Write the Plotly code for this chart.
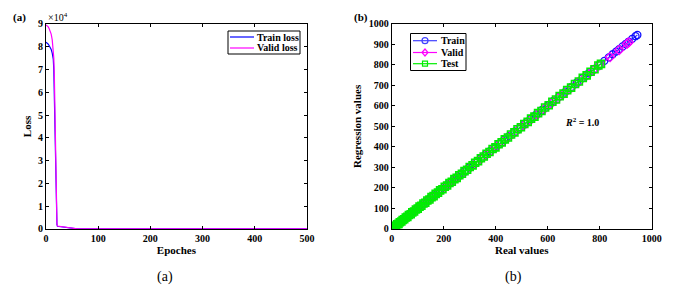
import plotly.graph_objects as go

# ---- Data: panel (a) loss curves (values in units of 1e4) ----
epochs = [0, 2, 4, 6, 8, 10, 12, 14, 15, 16, 17, 18, 19, 20, 21, 22, 25, 30, 35, 40, 45, 50, 55, 60, 80, 100, 200, 300, 400, 500]
train_loss = [8.20, 8.17, 8.12, 8.05, 7.98, 7.88, 7.72, 7.45, 7.00, 6.00, 4.60, 3.00, 1.60, 0.60, 0.20, 0.12, 0.11, 0.09, 0.07, 0.05, 0.03, 0.02, 0.01, 0.003, 0.001, 0, 0, 0, 0, 0]
valid_loss = [8.95, 8.93, 8.88, 8.80, 8.70, 8.55, 8.30, 7.90, 7.50, 6.80, 5.20, 3.40, 1.80, 0.70, 0.25, 0.13, 0.12, 0.10, 0.08, 0.06, 0.04, 0.02, 0.01, 0.003, 0.001, 0, 0, 0, 0, 0]

# ---- Data: panel (b) regression ----
train_real = [5, 10, 14, 18, 23, 28, 33, 38, 44, 50, 56, 62, 69, 76, 83, 90, 98, 106, 114, 122, 131, 140, 150, 160, 170, 181, 192, 204, 216, 228, 241, 254, 268, 282, 297, 312, 328, 344, 361, 378, 396, 414, 433, 452, 472, 492, 513, 534, 556, 578, 600, 622, 645, 668, 690, 712, 735, 757, 778, 800, 818, 835, 850, 863, 875, 888, 900, 912, 925, 938, 945]
train_pred = [7, 12, 16, 20, 25, 30, 35, 40, 46, 52, 58, 64, 71, 78, 85, 92, 100, 108, 116, 124, 133, 142, 152, 162, 172, 183, 194, 206, 218, 230, 243, 256, 270, 284, 299, 314, 330, 346, 363, 380, 398, 416, 435, 454, 474, 494, 515, 536, 558, 580, 602, 624, 647, 670, 692, 714, 737, 759, 780, 802, 820, 837, 852, 865, 877, 890, 902, 914, 927, 940, 946]
valid_real = [6, 12, 19, 27, 35, 44, 53, 63, 73, 84, 95, 107, 119, 132, 145, 159, 173, 188, 203, 219, 235, 252, 269, 287, 305, 324, 343, 363, 383, 404, 425, 447, 469, 492, 515, 539, 563, 588, 613, 639, 665, 692, 719, 747, 775, 800, 840, 875, 905, 912]
valid_pred = [4, 10, 17, 25, 33, 42, 51, 61, 71, 82, 93, 105, 117, 130, 143, 157, 171, 186, 201, 217, 233, 250, 267, 285, 303, 322, 341, 361, 381, 402, 423, 445, 467, 490, 513, 537, 561, 586, 611, 637, 663, 690, 717, 745, 773, 798, 838, 873, 903, 910]
test_real = [3, 8, 12, 16, 21, 26, 31, 37, 42, 48, 54, 60, 66, 73, 79, 86, 93, 100, 107, 114, 122, 129, 137, 145, 153, 161, 169, 178, 186, 195, 204, 213, 222, 231, 241, 250, 260, 270, 280, 290, 300, 311, 321, 332, 343, 354, 365, 376, 388, 399, 411, 423, 435, 447, 459, 472, 484, 497, 510, 523, 536, 549, 563, 576, 590, 604, 618, 632, 646, 661, 675, 690, 705, 720, 735, 750, 765, 780, 795, 805]
test_pred = [5, 7, 14, 15, 23, 25, 33, 36, 44, 47, 56, 59, 68, 72, 81, 85, 95, 99, 109, 113, 124, 128, 139, 144, 155, 160, 171, 177, 188, 194, 206, 212, 224, 230, 243, 249, 262, 269, 282, 289, 302, 310, 323, 331, 345, 353, 367, 375, 390, 398, 413, 422, 437, 446, 461, 471, 486, 496, 512, 522, 538, 548, 565, 575, 592, 603, 620, 631, 648, 660, 677, 689, 707, 719, 737, 749, 767, 779, 797, 805]

loss_xticks = [0, 100, 200, 300, 400, 500]
loss_yticks = [0, 1, 2, 3, 4, 5, 6, 7, 8, 9]
reg_xticks = [0, 200, 400, 600, 800, 1000]
reg_yticks = [0, 100, 200, 300, 400, 500, 600, 700, 800, 900, 1000]

FONT = "Liberation Serif"
W, H = 676, 288
def px(x):
    return x / W
def py(y):
    return 1 - y / H

fig = go.Figure()

fig.add_trace(go.Scatter(x=epochs, y=train_loss, mode="lines", name="Train loss",
                         line=dict(color="#0000ff", width=1.2), xaxis="x", yaxis="y"))
fig.add_trace(go.Scatter(x=epochs, y=valid_loss, mode="lines", name="Valid loss",
                         line=dict(color="#ff00ff", width=1.2), xaxis="x", yaxis="y"))

fig.add_trace(go.Scatter(x=train_real, y=train_pred, mode="lines+markers", name="Train",
                         line=dict(color="#3030ff", width=1.2),
                         marker=dict(symbol="circle-open", size=7, color="#1010ff", line=dict(width=1.3)),
                         xaxis="x2", yaxis="y2"))
fig.add_trace(go.Scatter(x=valid_real, y=valid_pred, mode="lines+markers", name="Valid",
                         line=dict(color="#ff00ff", width=1.2),
                         marker=dict(symbol="diamond-open", size=7, color="#ff00ff", line=dict(width=1.3)),
                         xaxis="x2", yaxis="y2"))
fig.add_trace(go.Scatter(x=test_real, y=test_pred, mode="lines+markers", name="Test",
                         line=dict(color="#00ff00", width=1.2),
                         marker=dict(symbol="square-open", size=7, color="#00ee00", line=dict(width=1.6)),
                         xaxis="x2", yaxis="y2"))

axcommon = dict(showline=True, linecolor="black", linewidth=1, mirror="allticks",
                ticks="inside", ticklen=3, tickcolor="black", showgrid=False, zeroline=False,
                automargin=False, tickfont=dict(family=FONT, size=10, color="black"))
tfont = dict(family=FONT, size=11, color="black")

ydom = [0.205, 0.917]
fig.update_layout(
    width=W, height=H, margin=dict(l=0, r=0, t=0, b=0, autoexpand=False),
    paper_bgcolor="white", plot_bgcolor="white", showlegend=False,
    xaxis=dict(domain=[0.068, 0.454], range=[0, 500], tickvals=loss_xticks,
               ticktext=[f"<b>{v}</b>" for v in loss_xticks],
               title=dict(text="<b>Epoches</b>", font=tfont, standoff=2),
               anchor="y", **axcommon),
    yaxis=dict(domain=ydom, range=[0, 9], tickvals=loss_yticks,
               ticktext=[f"<b>{v}</b>" for v in loss_yticks],
               title=dict(text="<b>Loss</b>", font=tfont, standoff=4),
               anchor="x", **axcommon),
    xaxis2=dict(domain=[0.5795, 0.964], range=[0, 1000], tickvals=reg_xticks,
                ticktext=[f"<b>{v}</b>" for v in reg_xticks],
                title=dict(text="<b>Real values</b>", font=tfont, standoff=2),
                anchor="y2", **axcommon),
    yaxis2=dict(domain=ydom, range=[0, 1000], tickvals=reg_yticks,
                ticktext=[f"<b>{v}</b>" for v in reg_yticks],
                title=dict(text="<b>Regression values</b>", font=tfont, standoff=4),
                anchor="x2", **axcommon),
)

shapes = []
ann = []
lfont = dict(family=FONT, size=10, color="black")

# legend (a)
shapes.append(dict(type="rect", xref="paper", yref="paper", x0=px(228), x1=px(300), y0=py(54), y1=py(31),
                   line=dict(color="black", width=1), fillcolor="white", layer="above"))
for yy, col, lab in [(37, "#0000ff", "Train loss"), (48, "#ff00ff", "Valid loss")]:
    shapes.append(dict(type="line", xref="paper", yref="paper", x0=px(230), x1=px(254), y0=py(yy), y1=py(yy),
                       line=dict(color=col, width=1.2), layer="above"))
    ann.append(dict(text=f"<b>{lab}</b>", x=px(255), y=py(yy), xref="paper", yref="paper",
                    xanchor="left", yanchor="middle", showarrow=False, font=lfont))

# legend (b)
shapes.append(dict(type="rect", xref="paper", yref="paper", x0=px(410.5), x1=px(466), y0=py(70.5), y1=py(33.5),
                   line=dict(color="black", width=1), fillcolor="white", layer="above"))
leg_b = [(40.7, "#4040ff", "Train", "circle"), (52.5, "#ff00ff", "Valid", "diamond"), (63.7, "#00ee00", "Test", "square")]
cx = 425
r = 3
for yy, col, lab, sym in leg_b:
    shapes.append(dict(type="line", xref="paper", yref="paper", x0=px(413), x1=px(437), y0=py(yy), y1=py(yy),
                       line=dict(color=col, width=1.2), layer="above"))
    if sym == "circle":
        shapes.append(dict(type="circle", xref="paper", yref="paper", x0=px(cx - r), x1=px(cx + r),
                           y0=py(yy + r), y1=py(yy - r), line=dict(color=col, width=1.2), layer="above"))
    elif sym == "square":
        shapes.append(dict(type="rect", xref="paper", yref="paper", x0=px(cx - r + 0.5), x1=px(cx + r - 0.5),
                           y0=py(yy + r - 0.5), y1=py(yy - r + 0.5), line=dict(color=col, width=1.2), layer="above"))
    else:
        path = (f"M {px(cx - r)} {py(yy)} L {px(cx)} {py(yy - r - 0.5)} L {px(cx + r)} {py(yy)} "
                f"L {px(cx)} {py(yy + r + 0.5)} Z")
        shapes.append(dict(type="path", xref="paper", yref="paper", path=path,
                           line=dict(color=col, width=1.2), layer="above"))
    ann.append(dict(text=f"<b>{lab}</b>", x=px(438.5), y=py(yy), xref="paper", yref="paper",
                    xanchor="left", yanchor="middle", showarrow=False, font=lfont))

ann += [
    dict(text="<b>(a)</b>", x=px(11), y=py(17.5), xref="paper", yref="paper", xanchor="left", yanchor="middle",
         showarrow=False, font=dict(family=FONT, size=11, color="black")),
    dict(text="<b>(b)</b>", x=px(351.5), y=py(17.5), xref="paper", yref="paper", xanchor="left", yanchor="middle",
         showarrow=False, font=dict(family=FONT, size=11, color="black")),
    dict(text="×10<sup>4</sup>", x=px(46), y=py(17.5), xref="paper", yref="paper", xanchor="left", yanchor="middle",
         showarrow=False, font=dict(family=FONT, size=10, color="black")),
    dict(text="<b><i>R</i><sup>2</sup> = 1.0</b>", x=660, y=522, xref="x2", yref="y2", xanchor="left", yanchor="middle",
         showarrow=False, font=dict(family=FONT, size=10, color="black")),
    dict(text="(a)", x=px(165), y=py(277), xref="paper", yref="paper", xanchor="center", yanchor="middle",
         showarrow=False, font=dict(family=FONT, size=14, color="black")),
    dict(text="(b)", x=px(513), y=py(277), xref="paper", yref="paper", xanchor="center", yanchor="middle",
         showarrow=False, font=dict(family=FONT, size=14, color="black")),
]
fig.update_layout(shapes=shapes, annotations=ann)
fig.write_html("out.html", config={"displayModeBar": False},
               post_script="document.body.style.margin='0';document.body.style.overflow='hidden';")
